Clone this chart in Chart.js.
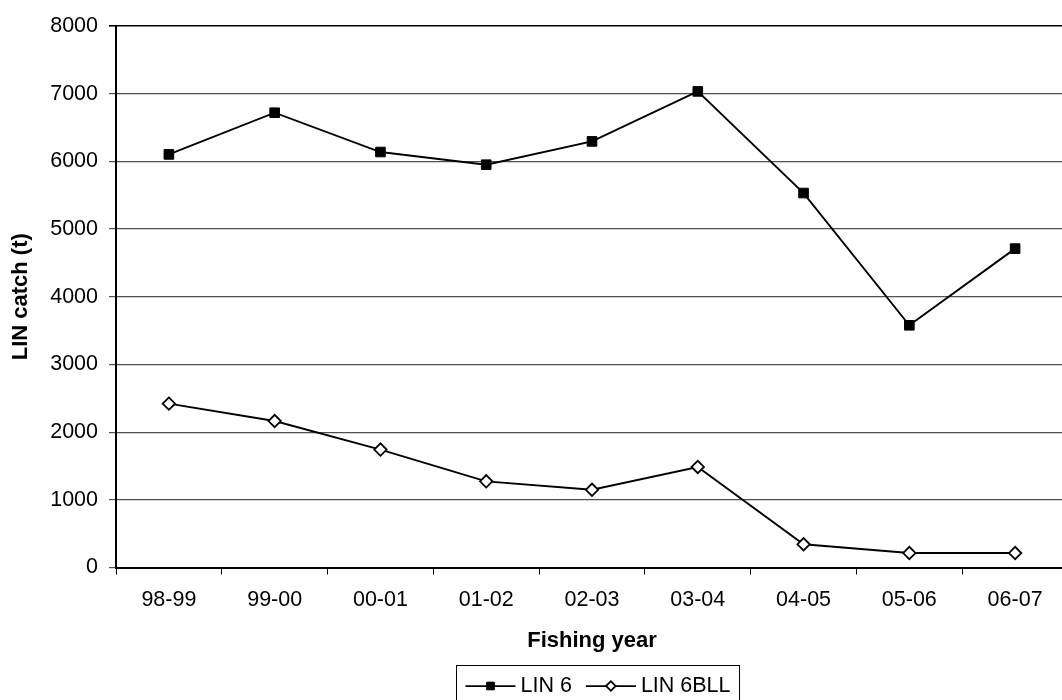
<!DOCTYPE html>
<html>
<head>
<meta charset="utf-8">
<script src="https://cdn.jsdelivr.net/npm/chart.js@4.4.1/dist/chart.umd.min.js"></script>
<style>
  html, body { margin: 0; padding: 0; background: #fff; overflow: hidden; width: 1062px; height: 700px; }
  canvas { display: block; }
</style>
</head>
<body>
<canvas id="c" width="1076" height="700"></canvas>
<script>
const categories = ["98-99", "99-00", "00-01", "01-02", "02-03", "03-04", "04-05", "05-06", "06-07"];
const lin6 = [6103, 6719, 6138, 5951, 6295, 7034, 5532, 3578, 4711];
const lin6bll = [2421, 2164, 1742, 1273, 1148, 1485, 343, 214, 214];
const yTicks = [0, 1000, 2000, 3000, 4000, 5000, 6000, 7000, 8000];
const seriesNames = ["LIN 6", "LIN 6BLL"];
const xTitle = "Fishing year";
const yTitle = "LIN catch (t)";

const FONT = "'Liberation Sans', Arial, sans-serif";

const boxLegend = {
  id: 'boxLegend',
  afterDraw(chart) {
    const ctx = chart.ctx;
    const ca = chart.chartArea;
    ctx.save();
    ctx.font = "21.5px " + FONT;
    const items = chart.data.datasets.map(ds => ({ ds, w: ctx.measureText(ds.label).width }));
    const lineLen = 50, gapText = 5, itemGap = 14, padX = 9;
    let total = padX * 2;
    items.forEach((it, i) => { total += lineLen + gapText + it.w + (i < items.length - 1 ? itemGap : 0); });
    const cx = (ca.left + ca.right) / 2 + 6;
    const left = Math.round(cx - total / 2) + 0.5;
    const top = 665.5;
    const cy = 686;
    ctx.strokeStyle = '#000';
    ctx.lineWidth = 1;
    ctx.strokeRect(left, top, total, 40);
    let x = left + padX;
    items.forEach((it) => {
      const ds = it.ds;
      ctx.strokeStyle = ds.borderColor;
      ctx.lineWidth = 1.75;
      ctx.beginPath();
      ctx.moveTo(x, cy);
      ctx.lineTo(x + lineLen, cy);
      ctx.stroke();
      ctx.fillStyle = ds.pointBackgroundColor;
      ctx.strokeStyle = ds.pointBorderColor;
      ctx.lineWidth = ds.pointBorderWidth;
      Chart.helpers.drawPoint(ctx, { pointStyle: ds.pointStyle, rotation: 0, borderWidth: ds.pointBorderWidth, radius: ds.legendRadius }, x + lineLen / 2, cy);
      ctx.fillStyle = '#000';
      ctx.textBaseline = 'middle';
      ctx.textAlign = 'left';
      ctx.font = "21.5px " + FONT;
      ctx.fillText(ds.label, x + lineLen + gapText, cy);
      x += lineLen + gapText + it.w + itemGap;
    });
    ctx.restore();
  }
};

new Chart(document.getElementById('c'), {
  type: 'line',
  data: {
    labels: categories,
    datasets: [
      {
        label: seriesNames[0],
        data: lin6,
        borderColor: '#000',
        borderWidth: 1.9,
        pointStyle: 'rect',
        pointRadius: 6.8,
        pointBorderWidth: 1,
        pointBackgroundColor: '#000',
        pointBorderColor: '#000',
        legendRadius: 5.4,
        tension: 0,
        fill: false
      },
      {
        label: seriesNames[1],
        data: lin6bll,
        borderColor: '#000',
        borderWidth: 1.9,
        pointStyle: 'rectRot',
        pointRadius: 6.2,
        pointBorderWidth: 1.8,
        pointBackgroundColor: '#fff',
        pointBorderColor: '#000',
        legendRadius: 4.8,
        tension: 0,
        fill: false
      }
    ]
  },
  options: {
    responsive: false,
    animation: false,
    devicePixelRatio: 1,
    layout: { padding: { top: 26, left: 0, right: 0, bottom: 40 } },
    plugins: {
      legend: { display: false },
      tooltip: { enabled: false }
    },
    scales: {
      x: {
        type: 'category',
        offset: true,
        grid: {
          display: true,
          offset: true,
          drawOnChartArea: false,
          drawTicks: true,
          tickLength: 7,
          color: '#000',
          lineWidth: 1
        },
        border: { display: true, color: '#000', width: 2 },
        ticks: {
          color: '#000',
          font: { family: FONT, size: 21.5 },
          padding: 13,
          maxRotation: 0,
          autoSkip: false
        },
        title: {
          display: true,
          text: xTitle,
          color: '#000',
          font: { family: FONT, size: 22, weight: 'bold' },
          padding: { top: 0, bottom: 6 }
        },
        afterFit(scale) { scale.height = 92.5; }
      },
      y: {
        min: 0,
        max: 8000,
        afterBuildTicks(scale) { scale.ticks = yTicks.map(v => ({ value: v })); },
        grid: {
          display: true,
          drawTicks: true,
          tickLength: 7,
          color: (c) => (c.tick && c.tick.value === 8000) ? '#000' : '#505050',
          lineWidth: (c) => (c.tick && c.tick.value === 8000) ? 1.6 : 1.2
        },
        border: { display: true, color: '#000', width: 2 },
        ticks: {
          color: '#000',
          font: { family: FONT, size: 21.5 },
          padding: 11,
          callback: (v) => String(v)
        },
        title: {
          display: true,
          text: yTitle,
          color: '#000',
          font: { family: FONT, size: 22, weight: 'bold' },
          padding: { top: 8, bottom: 0 }
        },
        afterFit(scale) { scale.width = 116; }
      }
    }
  },
  plugins: [boxLegend]
});
</script>
</body>
</html>
